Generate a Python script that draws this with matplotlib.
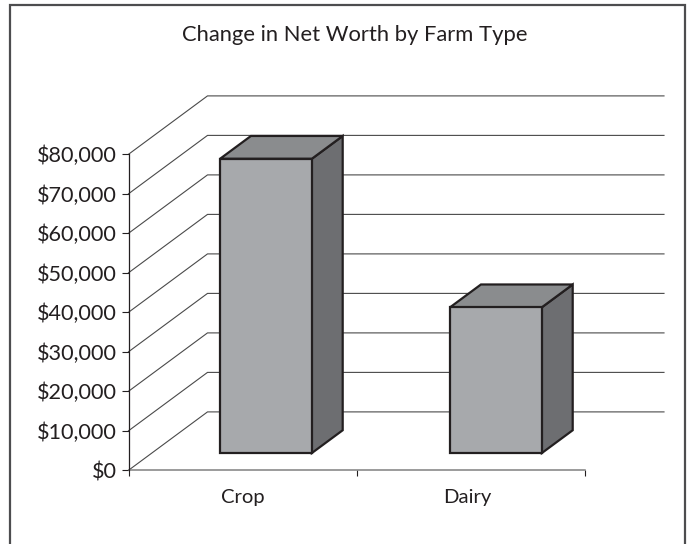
import matplotlib
matplotlib.use('Agg')
import matplotlib.pyplot as plt
from matplotlib.lines import Line2D

# data
categories = ['Crop', 'Dairy']
net_worth = [74500, 36900]
y_ticks = [0, 10000, 20000, 30000, 40000, 50000, 60000, 70000, 80000]

plt.rcParams['font.family'] = ['Lato', 'DejaVu Sans']
plt.rcParams['font.size'] = 15.6

W, H = 691, 544
fig = plt.figure(figsize=(W / 100, H / 100), dpi=100)
ax = fig.add_axes([128.5 / W, 1 - 470.3 / H, 456.5 / W, 316 / H])
ax.set_xlim(0, len(categories))
ax.set_ylim(0, 80000)
ax.patch.set_visible(False)

# 3d offset of the back wall, in data units
depth_x = 79 / 228.25
depth_y = 58.4 / 316 * 80000
bar_width = 0.402
bar_step = 1.0077
bar_front = 0.296  # fraction of the floor depth
bar_back = 0.686

# gridlines: up the side wall, then along the back wall
for v in y_ticks:
    ax.plot([0, depth_x, len(categories) + depth_x],
            [v, v + depth_y, v + depth_y],
            color='#4a4a4a', lw=0.8, clip_on=False, zorder=1)

# bars as three faces
for i, val in enumerate(net_worth):
    x0 = i * bar_step + 0.5 - bar_width / 2 + bar_front * depth_x
    x1 = x0 + bar_width
    y0 = bar_front * depth_y
    y1 = y0 + val
    dx = (bar_back - bar_front) * depth_x
    dy = (bar_back - bar_front) * depth_y
    edge = dict(edgecolor='#231f20', lw=1.6, joinstyle='miter', clip_on=False, zorder=3)
    ax.fill([x1, x1 + dx, x1 + dx, x1], [y0, y0 + dy, y1 + dy, y1], facecolor='#6d6e71', **edge)
    ax.fill([x0, x0 + dx, x1 + dx, x1], [y1, y1 + dy, y1 + dy, y1], facecolor='#8a8c8e', **edge)
    ax.fill([x0, x1, x1, x0], [y0, y0, y1, y1], facecolor='#a7a9ac', **edge)

# axes
for s in ['top', 'right']:
    ax.spines[s].set_visible(False)
ax.spines['left'].set_color('#231f20')
ax.spines['left'].set_linewidth(0.9)
ax.spines['bottom'].set_color('#808080')
ax.spines['bottom'].set_linewidth(1.1)
ax.spines['bottom'].set_zorder(2)

ax.set_yticks(y_ticks)
ax.set_yticklabels(['${:,}'.format(v) for v in y_ticks], color='#231f20')
ax.set_xticks(range(len(categories) + 1))
ax.set_xticklabels([])
ax.tick_params(axis='y', length=5.4, width=0.8, color='#231f20', pad=3)
ax.tick_params(axis='x', length=4.5, width=0.8, color='#231f20')
for i, name in enumerate(categories):
    ax.annotate(name, (i + 0.5, 0), xycoords=('data', 'axes fraction'),
                xytext=(-3.5 * i * 0.72, -27.5 * 0.72), textcoords='offset points',
                ha='center', va='center', color='#231f20', fontsize=14.6)

fig.text(354.5 / W, 1 - 35 / H, 'Change in Net Worth by Farm Type',
         ha='center', va='center', color='#231f20', fontsize=15.8)

# outer frame, no bottom edge in the picture
frame = Line2D([9.5 / W, 9.5 / W, 684.5 / W, 684.5 / W],
               [0, 1 - 5 / H, 1 - 5 / H, 0],
               transform=fig.transFigure, color='#4d4d4f', lw=1.6, solid_joinstyle='miter')
fig.add_artist(frame)

fig.savefig('out.png', dpi=100)
